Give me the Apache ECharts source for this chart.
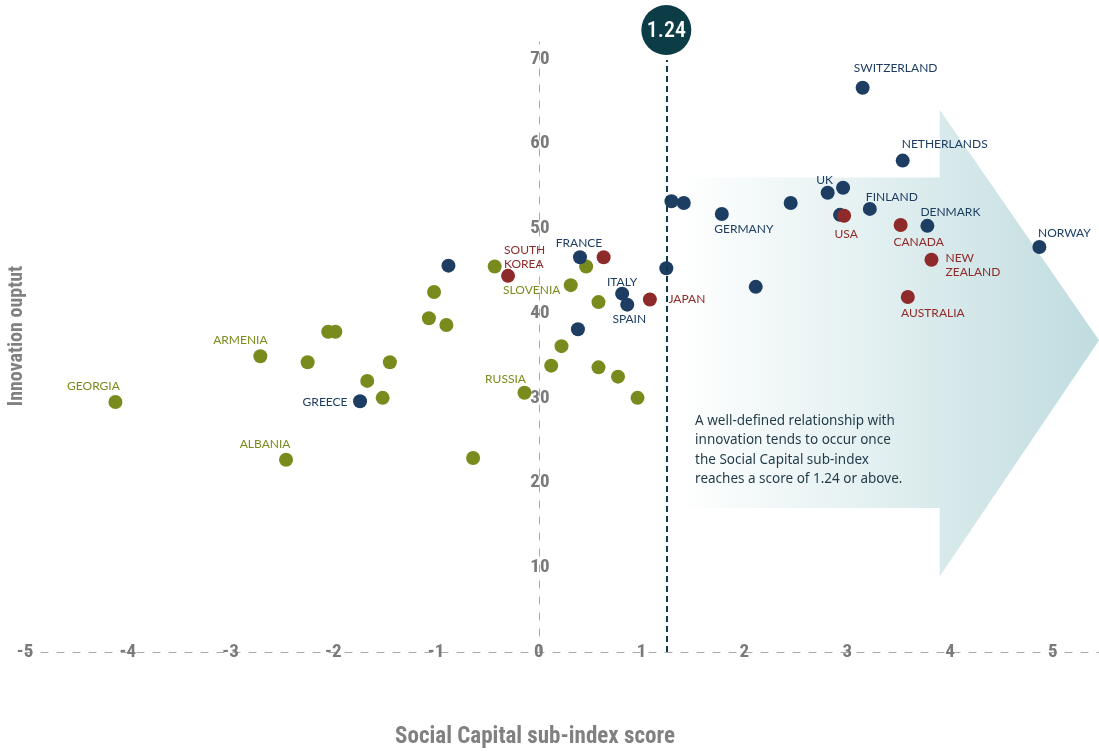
<!DOCTYPE html>
<html>
<head>
<meta charset="utf-8">
<title>Social Capital vs Innovation output</title>
<script src="https://cdn.jsdelivr.net/npm/echarts@6/dist/echarts.min.js"></script>
<style>
  html, body { margin: 0; padding: 0; background: #fff; }
  #chart { width: 1099px; height: 753px; }
</style>
</head>
<body>
<div id="chart"></div>
<script>
// [social capital sub-index score, innovation output, label]
const greenPoints = [
  [-4.12, 29.5, "GEORGIA"],
  [-2.71, 34.9, "ARMENIA"],
  [-2.46, 22.7, "ALBANIA"],
  [-2.25, 34.2, ""],
  [-2.05, 37.8, ""],
  [-1.98, 37.8, ""],
  [-1.67, 32.0, ""],
  [-1.52, 30.0, ""],
  [-1.45, 34.2, ""],
  [-1.07, 39.4, ""],
  [-1.02, 42.5, ""],
  [-0.90, 38.6, ""],
  [-0.64, 22.9, ""],
  [-0.43, 45.5, ""],
  [-0.14, 30.6, "RUSSIA"],
  [0.12, 33.8, ""],
  [0.22, 36.1, ""],
  [0.31, 43.3, "SLOVENIA"],
  [0.46, 45.5, ""],
  [0.58, 41.3, ""],
  [0.58, 33.6, ""],
  [0.77, 32.5, ""],
  [0.96, 30.0, ""]
];
const bluePoints = [
  [-0.88, 45.6, ""],
  [-1.74, 29.6, "GREECE"],
  [0.40, 46.6, "FRANCE"],
  [0.38, 38.1, ""],
  [0.81, 42.3, "ITALY"],
  [0.86, 41.0, "SPAIN"],
  [1.24, 45.3, ""],
  [1.29, 53.2, ""],
  [1.41, 53.0, ""],
  [1.78, 51.7, "GERMANY"],
  [2.11, 43.1, ""],
  [2.45, 53.0, ""],
  [2.81, 54.2, "UK"],
  [2.96, 54.8, ""],
  [2.93, 51.6, ""],
  [3.22, 52.3, "FINLAND"],
  [3.15, 66.6, "SWITZERLAND"],
  [3.54, 58.0, "NETHERLANDS"],
  [3.78, 50.3, "DENMARK"],
  [4.87, 47.8, "NORWAY"]
];
const redPoints = [
  [-0.30, 44.4, "SOUTH\nKOREA"],
  [0.63, 46.6, ""],
  [1.08, 41.6, "JAPAN"],
  [2.97, 51.5, "USA"],
  [3.52, 50.4, "CANADA"],
  [3.82, 46.3, "NEW\nZEALAND"],
  [3.59, 41.9, "AUSTRALIA"]
];
const threshold = 1.24;
const noteLines = [
  "A well-defined relationship with",
  "innovation tends to occur once",
  "the Social Capital sub-index",
  "reaches a score of 1.24 or above."
];

// label placement around the dot: [dx, dy, align]
const labelPlace = {
  "GEORGIA": [-22, -16], "ARMENIA": [-20, -16], "ALBANIA": [-21, -16],
  "GREECE": [-35, 1], "RUSSIA": [-19, -14], "SLOVENIA": [-39, 5],
  "SOUTH\nKOREA": [-4, -19, "left"], "FRANCE": [-1, -14], "ITALY": [0, -12],
  "SPAIN": [2, 14], "JAPAN": [37, 0], "GERMANY": [22, 15], "UK": [-3, -13],
  "USA": [2, 18], "FINLAND": [22, -12], "SWITZERLAND": [33, -20],
  "NETHERLANDS": [42, -16], "DENMARK": [23, -14], "CANADA": [18, 17],
  "NEW\nZEALAND": [14, 5, "left"], "AUSTRALIA": [25, 16], "NORWAY": [25, -14]
};

// condensed face: "condensed" goes in the weight slot of the canvas font string
const numFont = "Roboto, 'DejaVu Sans Condensed', sans-serif";
const numWeight = "condensed bold";
const nameFont = "Lato, 'Noto Sans', sans-serif";

function toData(points) {
  return points.map(function (p) {
    let item = { value: [p[0], p[1]], name: p[2] };
    if (p[2]) {
      let pl = labelPlace[p[2]] || [0, -14];
      item.label = { show: true, offset: [pl[0], pl[1]], align: pl[2] || "center" };
    } else {
      item.label = { show: false };
    }
    return item;
  });
}

function scatter(name, points, color) {
  return {
    name: name,
    type: "scatter",
    symbolSize: 14,
    z: 3,
    itemStyle: { color: color, opacity: 1 },
    label: {
      show: true,
      position: "inside",
      formatter: "{b}",
      color: color,
      fontFamily: nameFont,
      fontSize: 12,
      lineHeight: 14
    },
    emphasis: { disabled: true },
    data: toData(points)
  };
}

let myChart = echarts.init(document.getElementById("chart"));
myChart.setOption({
  animation: false,
  grid: { left: 25, right: 0, top: 42, bottom: 101, outerBoundsMode: "none" },
  xAxis: {
    type: "value",
    min: -5,
    max: 5.45,
    interval: 1,
    name: "Social Capital sub-index score",
    nameLocation: "middle",
    nameGap: 74,
    nameTextStyle: {
      color: "#808080",
      fontFamily: numFont,
      fontSize: 23,
      fontWeight: numWeight,
      padding: [0, 54, 0, 0] // title sits a little left of the axis middle
    },
    axisLine: { show: true, onZero: true, lineStyle: { color: "#aaaaaa", type: [7, 9], width: 1 } },
    axisTick: { show: false },
    splitLine: { show: false },
    axisLabel: {
      margin: -9,
      showMaxLabel: false,
      color: "#7a7a7a",
      fontFamily: numFont,
      fontSize: 19,
      fontWeight: numWeight
    }
  },
  yAxis: {
    type: "value",
    min: 0,
    max: 72,
    interval: 10,
    axisLine: { show: true, onZero: true, lineStyle: { color: "#aaaaaa", type: [7, 9], width: 1 } },
    axisTick: { show: false },
    splitLine: { show: false },
    axisLabel: {
      margin: -1,
      align: "center",
      showMinLabel: false,
      showMaxLabel: false,
      color: "#7a7a7a",
      fontFamily: numFont,
      fontSize: 19,
      fontWeight: numWeight
    }
  },
  series: [
    scatter("Group A", greenPoints, "#7a8b1e"),
    Object.assign(scatter("Group B", bluePoints, "#1d3e62"), {
      markLine: {
        silent: true,
        symbol: "none",
        label: { show: false },
        lineStyle: { color: "#0c3d47", type: [6, 4], width: 2 },
        data: [{ xAxis: threshold }]
      }
    }),
    scatter("Group C", redPoints, "#8f2a2a")
  ]
});

// background arrow, threshold bubble and note, placed through the chart's scales
function px(x, y) {
  return myChart.convertToPixel({ gridIndex: 0 }, [x, y]);
}
let arrowPts = [
  px(1.36, 56), px(3.9, 56), px(3.9, 64), px(5.45, 36.8),
  px(3.9, 8.9), px(3.9, 17), px(1.36, 17)
];
let tx = px(threshold, 0)[0];
let zeroX = px(0, 0)[0];
let notePos = px(1.52, 28.4);

myChart.setOption({
  // y labels sit on the x = 0 axis line, not on the grid edge
  yAxis: { axisLabel: { margin: -(zeroX - 25) - 1 } },
  graphic: [
    {
      type: "polygon",
      z: 0,
      silent: true,
      shape: { points: arrowPts },
      style: {
        fill: {
          type: "linear", x: 0, y: 0, x2: 1, y2: 0,
          colorStops: [
            { offset: 0, color: "#ffffff" },
            { offset: 0.45, color: "#e4f0f1" },
            { offset: 1, color: "#bfdcdf" }
          ]
        }
      }
    },
    {
      type: "text",
      z: 5,
      silent: true,
      x: notePos[0],
      y: notePos[1],
      style: {
        text: noteLines.join("\n"),
        fill: "#1f3a48",
        font: "13.5px 'Noto Sans', sans-serif",
        lineHeight: 19.5
      }
    },
    {
      // white collar so the dashed line starts just under the bubble
      type: "rect",
      z: 9,
      silent: true,
      shape: { x: tx - 4, y: 42, width: 8, height: 18 },
      style: { fill: "#ffffff" }
    },
    {
      type: "circle",
      z: 10,
      silent: true,
      shape: { cx: tx, cy: 30, r: 25 },
      style: { fill: "#0c3d47" }
    },
    {
      type: "text",
      z: 11,
      silent: true,
      x: tx,
      y: 31,
      style: {
        text: String(threshold),
        fill: "#ffffff",
        font: "condensed 500 22px " + numFont,
        align: "center",
        verticalAlign: "middle"
      }
    },
    {
      type: "text",
      z: 5,
      silent: true,
      x: 17,
      y: 336,
      rotation: Math.PI / 2,
      style: {
        text: "Innovation ouptut",
        fill: "#808080",
        font: numWeight + " 20px " + numFont,
        align: "center",
        verticalAlign: "middle"
      }
    }
  ]
});

window.addEventListener("resize", function () {
  myChart.resize();
});
</script>
</body>
</html>
